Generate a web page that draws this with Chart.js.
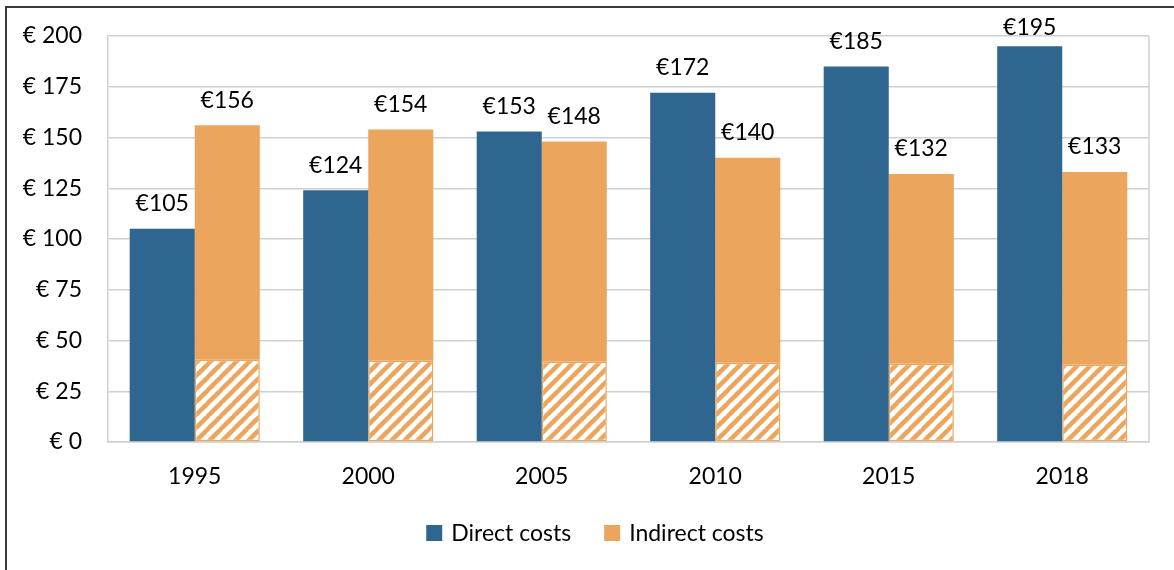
<!DOCTYPE html>
<html>
<head>
<meta charset="utf-8">
<script src="https://cdn.jsdelivr.net/npm/chart.js@4.4.1/dist/chart.umd.min.js"></script>
<style>
  html, body { margin: 0; padding: 0; background: #fff; overflow: hidden; }
  #frame {
    position: absolute; left: 5px; top: 6px; width: 2000px; height: 2000px;
    border-left: 2px solid #3a3a3a; border-top: 2px solid #3a3a3a;
  }
  #myChart { position: absolute; left: 0; top: 0; }
</style>
</head>
<body>
<div id="frame"></div>
<canvas id="myChart" width="1174" height="570"></canvas>
<script>
// chart data
var years = ["1995", "2000", "2005", "2010", "2015", "2018"]
var directCosts = [105, 124, 153, 172, 185, 195]
var indirectCosts = [156, 154, 148, 140, 132, 133]
// hatched lower part of the indirect bars
var indirectHatched = [40.5, 40, 39.5, 39, 38.5, 38]
var yTicks = [0, 25, 50, 75, 100, 125, 150, 175, 200]
var legendNames = ["Direct costs", "Indirect costs"]

var BLUE = "#2f6690"
var ORANGE = "#eba55c"
var FONT = "Lato, 'Open Sans', sans-serif"
var FSIZE = 23

var indirectRest = indirectCosts.map((v, i) => v - indirectHatched[i])

// diagonal stripe pattern for the hatched part
function makeHatch() {
    var s = 13
    var c = document.createElement("canvas")
    c.width = s
    c.height = s
    var g = c.getContext("2d")
    g.fillStyle = "#fff"
    g.fillRect(0, 0, s, s)
    g.strokeStyle = ORANGE
    g.lineWidth = 4.5
    g.beginPath()
    for (var k = -1; k <= 1; k++) {
        g.moveTo(k * s - 1, s + 1)
        g.lineTo(k * s + s + 1, -1)
    }
    g.stroke()
    return g.createPattern(c, "repeat")
}

// value labels above bars, right edge of the plot area, legend
var labelPlugin = {
    id: "barLabels",
    afterDraw(chart) {
        var ctx = chart.ctx
        var area = chart.chartArea
        ctx.save()
        ctx.strokeStyle = "#d0d0d0"
        ctx.lineWidth = 1.5
        ctx.beginPath()
        ctx.moveTo(area.right, area.top)
        ctx.lineTo(area.right, area.bottom)
        ctx.stroke()

        ctx.font = FSIZE + "px " + FONT
        ctx.fillStyle = "#000"
        ctx.textAlign = "center"
        ctx.textBaseline = "middle"
        var direct = chart.getDatasetMeta(0).data
        var indirect = chart.getDatasetMeta(2).data
        years.forEach((y, i) => {
            var yd = Math.max(direct[i].y - 25, 28)
            ctx.fillText("€" + directCosts[i], direct[i].x, yd)
            var yi = Math.max(indirect[i].y - 25, 28)
            ctx.fillText("€" + indirectCosts[i], indirect[i].x, yi)
        })

        // legend
        var colors = [BLUE, ORANGE]
        var box = 16, gap = 9, spacing = 33
        var widths = legendNames.map((t) => box + gap + ctx.measureText(t).width)
        var total = widths.reduce((a, b) => a + b, 0) + spacing * (widths.length - 1)
        var x = 595 - total / 2
        var cy = 533
        ctx.textAlign = "left"
        legendNames.forEach((t, i) => {
            ctx.fillStyle = colors[i]
            ctx.fillRect(x, cy - box / 2, box, box)
            ctx.fillStyle = "#000"
            ctx.fillText(t, x + box + gap, cy + 1)
            x += widths[i] + spacing
        })
        ctx.restore()
    }
}

window.addEventListener("load", (e) => {
    var hatch = makeHatch()
    new Chart("myChart", {
        type: "bar",
        data: {
            labels: years,
            datasets: [{
                label: legendNames[0],
                data: directCosts,
                backgroundColor: BLUE,
                stack: "direct"
            }, {
                label: "hatched",
                data: indirectHatched,
                backgroundColor: hatch,
                borderColor: ORANGE,
                borderWidth: 1.5,
                borderSkipped: false,
                stack: "indirect"
            }, {
                label: legendNames[1],
                data: indirectRest,
                backgroundColor: ORANGE,
                stack: "indirect"
            }]
        },
        options: {
            responsive: false,
            animation: false,
            devicePixelRatio: 1,
            categoryPercentage: 0.75,
            barPercentage: 1,
            layout: { padding: { left: 0, right: 25, top: 36, bottom: 68 } },
            plugins: {
                tooltip: { enabled: false },
                legend: { display: false }
            },
            scales: {
                x: {
                    stacked: true,
                    grid: { display: false },
                    border: { display: true, color: "#d0d0d0", width: 1.5 },
                    ticks: { color: "#000", font: { family: FONT, size: FSIZE }, padding: 13 },
                    afterFit(scale) { scale.height = 60 }
                },
                y: {
                    stacked: true,
                    min: 0,
                    max: 200,
                    afterBuildTicks(scale) { scale.ticks = yTicks.map((v) => ({ value: v })) },
                    // invisible tick marks push the labels left without adding top padding
                    grid: { color: "#d0d0d0", lineWidth: 1.5, drawTicks: true, tickLength: 20, tickColor: "rgba(0,0,0,0)" },
                    border: { display: true, color: "#d0d0d0", width: 1.5 },
                    ticks: {
                        color: "#000",
                        font: { family: FONT, size: FSIZE },
                        padding: 6,
                        callback: (v) => "€ " + v
                    },
                    afterFit(scale) { scale.width = 108 }
                }
            }
        },
        plugins: [labelPlugin]
    })
})
</script>
</body>
</html>
